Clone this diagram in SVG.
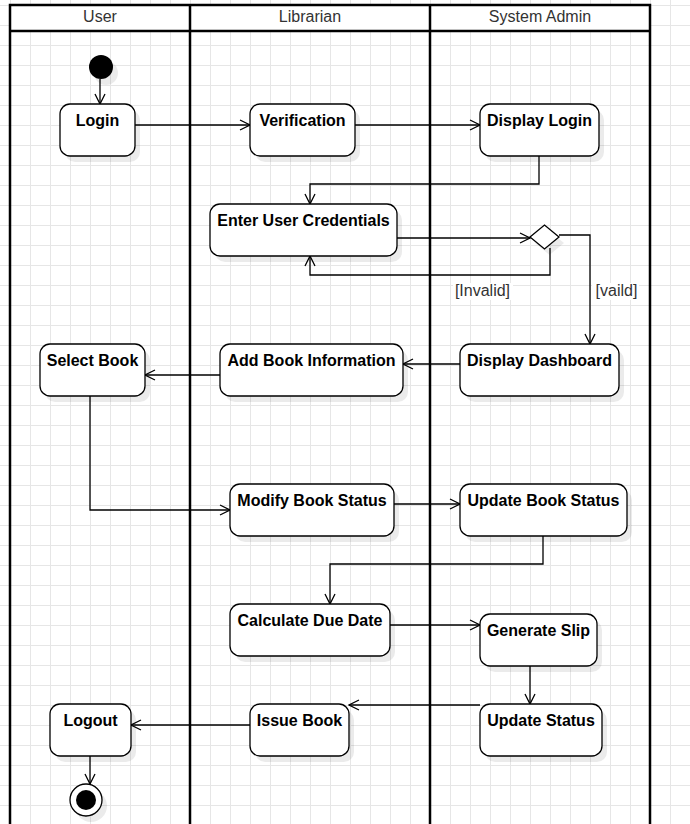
<svg xmlns="http://www.w3.org/2000/svg" width="690" height="824" viewBox="0 0 690 824">
<style>
.box{fill:#fff;stroke:#000;stroke-width:1.3}
.sh{fill:#000;fill-opacity:0.08;stroke:none}
.lbl{font-family:"Liberation Sans",Arial,sans-serif;font-size:16px;font-weight:bold;fill:#000;text-anchor:middle}
.hdr{font-family:"Liberation Sans",Arial,sans-serif;font-size:16px;fill:#333;text-anchor:middle}
.grd{font-family:"Liberation Sans",Arial,sans-serif;font-size:16px;fill:#333;text-anchor:middle}
.lane{fill:none;stroke:#000;stroke-width:2.5}
.con{fill:none;stroke:#000;stroke-width:1.3}
</style>
<defs>
<pattern id="grid" patternUnits="userSpaceOnUse" x="10" y="5" width="20" height="20">
<rect x="0" y="0" width="1" height="20" fill="#e6e6e6"/>
<rect x="0" y="0" width="20" height="1" fill="#e6e6e6"/>
</pattern>
<marker id="arr" viewBox="0 0 12 12" refX="11" refY="6" markerWidth="12" markerHeight="12" markerUnits="userSpaceOnUse" orient="auto">
<path d="M1,1 L11,6 L1,11" fill="none" stroke="#000" stroke-width="1.3"/>
</marker>
</defs>
<rect x="0" y="0" width="690" height="824" fill="#fff"/>
<rect x="0" y="0" width="690" height="824" fill="url(#grid)"/>

<g id="swimlanes">
<rect x="10" y="5" width="640" height="26" fill="#fff"/>
<path class="lane" d="M10,830 L10,5 L650,5 L650,830 M10,31 L650,31 M190,5 L190,830 M430,5 L430,830"/>
<text class="hdr" x="100" y="22">User</text>
<text class="hdr" x="310" y="22">Librarian</text>
<text class="hdr" x="540" y="22">System Admin</text>
</g>

<g id="connectors">
<path class="con" d="M100,79 L100,104" marker-end="url(#arr)"/>
<path class="con" d="M135,125 L250,125" marker-end="url(#arr)"/>
<path class="con" d="M355,125 L480,125" marker-end="url(#arr)"/>
<path class="con" d="M539,156 L539,184 L310,184 L310,204" marker-end="url(#arr)"/>
<path class="con" d="M397,238 L530,238" marker-end="url(#arr)"/>
<path class="con" d="M550,248 L550,275 L310,275 L310,256" marker-end="url(#arr)"/>
<path class="con" d="M559,235 L590,235 L590,344" marker-end="url(#arr)"/>
<path class="con" d="M460,364 L403,364" marker-end="url(#arr)"/>
<path class="con" d="M220,375 L145,375" marker-end="url(#arr)"/>
<path class="con" d="M90,396 L90,510 L230,510" marker-end="url(#arr)"/>
<path class="con" d="M394,504 L460,504" marker-end="url(#arr)"/>
<path class="con" d="M543,536 L543,564 L330,564 L330,604" marker-end="url(#arr)"/>
<path class="con" d="M390,625 L480,625" marker-end="url(#arr)"/>
<path class="con" d="M530,666 L530,704" marker-end="url(#arr)"/>
<path class="con" d="M480,705 L349,705" marker-end="url(#arr)"/>
<path class="con" d="M250,725 L131,725" marker-end="url(#arr)"/>
<path class="con" d="M90,756 L90,784" marker-end="url(#arr)"/>
<rect x="453" y="283" width="60" height="17" fill="#fff"/>
<text class="grd" x="482.5" y="296">[Invalid]</text>
<rect x="592" y="283" width="47" height="17" fill="#fff"/>
<text class="grd" x="616.5" y="296">[vaild]</text>
</g>

<g id="start">
<circle class="sh" cx="106" cy="73" r="12"/>
<circle cx="101" cy="67" r="12" fill="#000"/>
</g>
<g id="login"><rect class="sh" x="65" y="110" width="75" height="52" rx="10"/><rect class="box" x="60" y="104" width="75" height="52" rx="10"/><text class="lbl" x="97.5" y="126">Login</text></g>
<g id="verification"><rect class="sh" x="255" y="110" width="105" height="52" rx="10"/><rect class="box" x="250" y="104" width="105" height="52" rx="10"/><text class="lbl" x="302.5" y="126">Verification</text></g>
<g id="display-login"><rect class="sh" x="485" y="110" width="119" height="52" rx="10"/><rect class="box" x="480" y="104" width="119" height="52" rx="10"/><text class="lbl" x="539.5" y="126">Display Login</text></g>
<g id="enter-credentials"><rect class="sh" x="215" y="210" width="187" height="52" rx="10"/><rect class="box" x="210" y="204" width="187" height="52" rx="10"/><text class="lbl" x="303.5" y="226">Enter User Credentials</text></g>
<g id="decision"><polygon class="sh" points="535,243 549.5,231 564,243 549.5,255"/><polygon class="box" points="530,237 544.5,225 559,237 544.5,249"/></g>
<g id="select-book"><rect class="sh" x="45" y="350" width="105" height="52" rx="10"/><rect class="box" x="40" y="344" width="105" height="52" rx="10"/><text class="lbl" x="92.5" y="366">Select Book</text></g>
<g id="add-book-info"><rect class="sh" x="225" y="350" width="183" height="52" rx="10"/><rect class="box" x="220" y="344" width="183" height="52" rx="10"/><text class="lbl" x="311.5" y="366">Add Book Information</text></g>
<g id="display-dashboard"><rect class="sh" x="465" y="350" width="159" height="52" rx="10"/><rect class="box" x="460" y="344" width="159" height="52" rx="10"/><text class="lbl" x="539.5" y="366">Display Dashboard</text></g>
<g id="modify-book-status"><rect class="sh" x="235" y="490" width="164" height="52" rx="10"/><rect class="box" x="230" y="484" width="164" height="52" rx="10"/><text class="lbl" x="312" y="506">Modify Book Status</text></g>
<g id="update-book-status"><rect class="sh" x="465" y="490" width="167" height="52" rx="10"/><rect class="box" x="460" y="484" width="167" height="52" rx="10"/><text class="lbl" x="543.5" y="506">Update Book Status</text></g>
<g id="calculate-due-date"><rect class="sh" x="235" y="610" width="160" height="52" rx="10"/><rect class="box" x="230" y="604" width="160" height="52" rx="10"/><text class="lbl" x="310" y="626">Calculate Due Date</text></g>
<g id="generate-slip"><rect class="sh" x="485" y="620" width="117" height="52" rx="10"/><rect class="box" x="480" y="614" width="117" height="52" rx="10"/><text class="lbl" x="538.5" y="636">Generate Slip</text></g>
<g id="update-status"><rect class="sh" x="485" y="710" width="122" height="52" rx="10"/><rect class="box" x="480" y="704" width="122" height="52" rx="10"/><text class="lbl" x="541" y="726">Update Status</text></g>
<g id="issue-book"><rect class="sh" x="255" y="710" width="99" height="52" rx="10"/><rect class="box" x="250" y="704" width="99" height="52" rx="10"/><text class="lbl" x="299.5" y="726">Issue Book</text></g>
<g id="logout"><rect class="sh" x="55" y="710" width="81" height="52" rx="10"/><rect class="box" x="50" y="704" width="81" height="52" rx="10"/><text class="lbl" x="90.5" y="726">Logout</text></g>
<g id="end">
<circle class="sh" cx="91" cy="806" r="16"/>
<circle cx="86" cy="800" r="16" fill="#fff" stroke="#000" stroke-width="1.3"/>
<circle cx="86" cy="800" r="10" fill="#000"/>
</g>
</svg>
